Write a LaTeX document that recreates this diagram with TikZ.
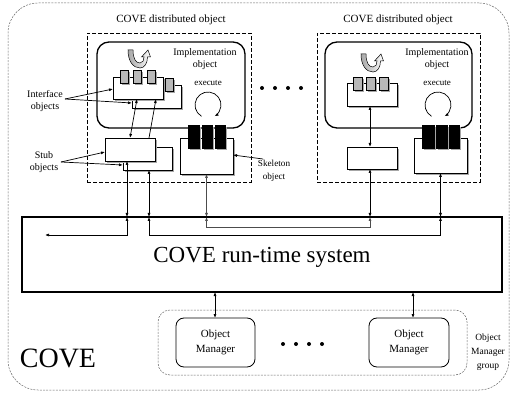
\documentclass[tikz,border=0pt]{standalone}
\usepackage{fontspec}
\setmainfont{Liberation Serif}
\usetikzlibrary{arrows.meta,shadows}

\tikzset{
  sz/.style n args={2}{minimum width=#1pt, minimum height=#2pt},
  base/.style={inner sep=0pt, outer sep=0pt, anchor=north west},
  shd/.style={drop shadow={shadow xshift=1.6pt, shadow yshift=-1.6pt, fill=gray!70, opacity=1}},
  obox/.style={base, draw, fill=white, line width=0.8pt, shd},
  gblk/.style={base, draw, fill=gray!55, line width=0.6pt, shd},
  kblk/.style={base, draw, fill=black, line width=0.6pt, shd},
  impl/.style={base, draw, rounded corners=12pt, line width=1.3pt},
  dobj/.style={base, draw, dash pattern=on 4pt off 2pt, line width=0.8pt},
  grp/.style={base, draw=gray!80!black, dash pattern=on 2pt off 1.2pt, line width=0.5pt},
  mgr/.style={base, draw, fill=white, rounded corners=8pt, line width=0.8pt,
    align=center, font=\fontsize{11}{14.5}\selectfont},
  conn/.style={line width=0.7pt, {Latex[length=4pt,width=3pt]}-{Latex[length=4pt,width=3pt]}},
  lead/.style={line width=0.7pt, -{Latex[length=4pt,width=3pt]}},
  lab/.style={align=center, font=\fontsize{10}{12.5}\selectfont},
  ttl/.style={font=\fontsize{11}{13}\selectfont},
  uturn/.style={draw, line width=0.5pt, left color=gray!70, right color=white},
}

\begin{document}
\begin{tikzpicture}[x=1pt,y=-1pt]
\useasboundingbox (0,0) rectangle (512,393);

% COVE domain
\node[grp, rounded corners=30pt, sz={501}{387}] (cove) at (8,3) {};
\node[font=\fontsize{28}{30}\selectfont] (covelbl) at (58,358) {COVE};

% ---------- first distributed object ----------
\node[dobj, sz={164}{149}] (doA) at (87,33) {};
\node[ttl] (doAt) at (171,20) {COVE distributed object};
\node[impl, sz={148}{86}] (imA) at (97,42) {};
\node[lab] (imAt) at (205,59) {Implementation\\object};
\node[font=\fontsize{9}{11}\selectfont] (exA) at (208,83) {execute};
\draw[lead] (208,105) ++(-240:13) arc[start angle=-240, end angle=60, radius=13];

% interface objects
\node[obox, sz={49}{23}] (ifA2) at (132,85) {};
\node[gblk, sz={8}{13}] (gA4) at (165,78) {};
\node[obox, sz={50}{22}] (ifA) at (113,77) {};
\node[gblk, sz={8}{13}] (gA1) at (120,70) {};
\node[gblk, sz={8}{13}] (gA2) at (133,70) {};
\node[gblk, sz={8}{13}] (gA3) at (147,70) {};
\begin{scope}[shift={(128,50)}]
  \path[uturn] (0,0) -- (5,0) .. controls (5,9) and (8,13) .. (12,13)
    .. controls (15,13) and (16,10) .. (16,7) -- (13.5,7) -- (20,0) -- (22.5,7)
    -- (19.5,7) .. controls (19.5,14) and (16,18) .. (12,18)
    .. controls (5,18) and (0,11) .. cycle;
\end{scope}

% stub objects
\node[obox, sz={49}{23}] (stA2) at (123,147) {};
\node[obox, sz={50}{23}] (stA) at (105,138) {};

% skeleton object
\node[obox, sz={53}{36}] (skA) at (180,138) {};
\node[kblk, sz={11}{23}] (kA1) at (188,125) {};
\node[kblk, sz={10}{23}] (kA2) at (202,125) {};
\node[kblk, sz={10}{23}] (kA3) at (215,125) {};

\draw[conn] (130,0 |- stA.north) -- (137,0 |- ifA.south);
\draw[lead] (149,0 |- stA.north) -- (156,0 |- ifA.south);

% side labels
\node[lab] (lif) at (45,101) {Interface\\objects};
\node[lab] (lst) at (44,162) {Stub\\objects};
\node[align=center, font=\fontsize{9.2}{12.5}\selectfont] (lsk) at (274,171) {Skeleton\\object};
\coordinate (lifo) at (65,99);
\coordinate (lsto) at (61,162);
\coordinate (lsko) at (263,159);
\draw[lead] (lifo) -- (ifA.west |- 0,89);
\draw[lead] (lifo) -- (ifA2.west |- 0,103);
\draw[lead] (lsto) -- (stA.west |- 0,152);
\draw[lead] (lsto) -- (stA2.west |- 0,165);
\draw[lead] (lsko) -- (skA.east |- 0,155);

% dots between the objects
\foreach \dx in {262,275,288,301} \fill (\dx,88) circle[radius=2];

% ---------- second distributed object ----------
\node[dobj, sz={163}{149}] (doB) at (317,33) {};
\node[ttl] (doBt) at (398,20) {COVE distributed object};
\node[impl, sz={147}{86}] (imB) at (325,42) {};
\node[lab] (imBt) at (437,59) {Implementation\\object};
\node[font=\fontsize{9}{11}\selectfont] (exB) at (437,83) {execute};
\draw[lead] (438,105) ++(-240:13) arc[start angle=-240, end angle=60, radius=13];

\node[obox, sz={50}{23}] (ifB) at (347,83) {};
\node[gblk, sz={9}{13}] (gB1) at (353,77) {};
\node[gblk, sz={9}{13}] (gB2) at (366,77) {};
\node[gblk, sz={9}{13}] (gB3) at (379,77) {};
\begin{scope}[shift={(361,54)}]
  \path[uturn] (0,0) -- (5,0) .. controls (5,9) and (8,13) .. (12,13)
    .. controls (15,13) and (16,10) .. (16,7) -- (13.5,7) -- (20,0) -- (22.5,7)
    -- (19.5,7) .. controls (19.5,14) and (16,18) .. (12,18)
    .. controls (5,18) and (0,11) .. cycle;
\end{scope}

\node[obox, sz={50}{22}] (stB) at (347,147) {};
\node[obox, sz={53}{35}] (skB) at (414,138) {};
\node[kblk, sz={12}{23}] (kB1) at (422,125) {};
\node[kblk, sz={11}{23}] (kB2) at (436,125) {};
\node[kblk, sz={10}{23}] (kB3) at (449,125) {};

\draw[conn] (370,0 |- ifB.south) -- (370,0 |- stB.north);

% ---------- run-time system ----------
\node[base, draw, line width=1.5pt, sz={480}{75}] (rts) at (22,217) {};
\node[font=\fontsize{23}{26}\selectfont] (rtst) at (262,257) {COVE run-time system};

\draw[conn] (127,0 |- stA.south) -- (127,0 |- rts.north);
\draw[conn] (149,0 |- stA2.south) -- (149,0 |- rts.north);
\draw[conn, gray!60!black] (skA.south) -- (skA.south |- rts.north);
\draw[conn] (370,0 |- stB.south) -- (370,0 |- rts.north);
\draw[conn] (skB.south) -- (skB.south |- rts.north);

\coordinate (sink) at (45,235);
\draw[conn] (127,0 |- rts.north) |- (sink);
\draw[conn] (149,0 |- rts.north) -- (149,235) -| (skB.south |- rts.north);
\draw[conn, gray!60!black] (skA.south |- rts.north) -- ++(0,10) -| (370,0 |- rts.north);

% ---------- object managers ----------
\node[grp, rounded corners=12pt, sz={309}{65}] (omg) at (158,310) {};
\node[mgr, sz={79}{49}] (omA) at (176,318) {Object\\Manager};
\node[mgr, sz={80}{49}] (omB) at (369,318) {Object\\Manager};
\node[align=center, font=\fontsize{9.5}{14}\selectfont] (omgt) at (488,352) {Object\\Manager\\group};
\foreach \dx in {283,296,309,322} \fill (\dx,344) circle[radius=2];

\draw[conn] (215,0 |- rts.south) -- (215,0 |- omA.north);
\draw[conn] (413,0 |- rts.south) -- (413,0 |- omB.north);
\end{tikzpicture}
\end{document}
